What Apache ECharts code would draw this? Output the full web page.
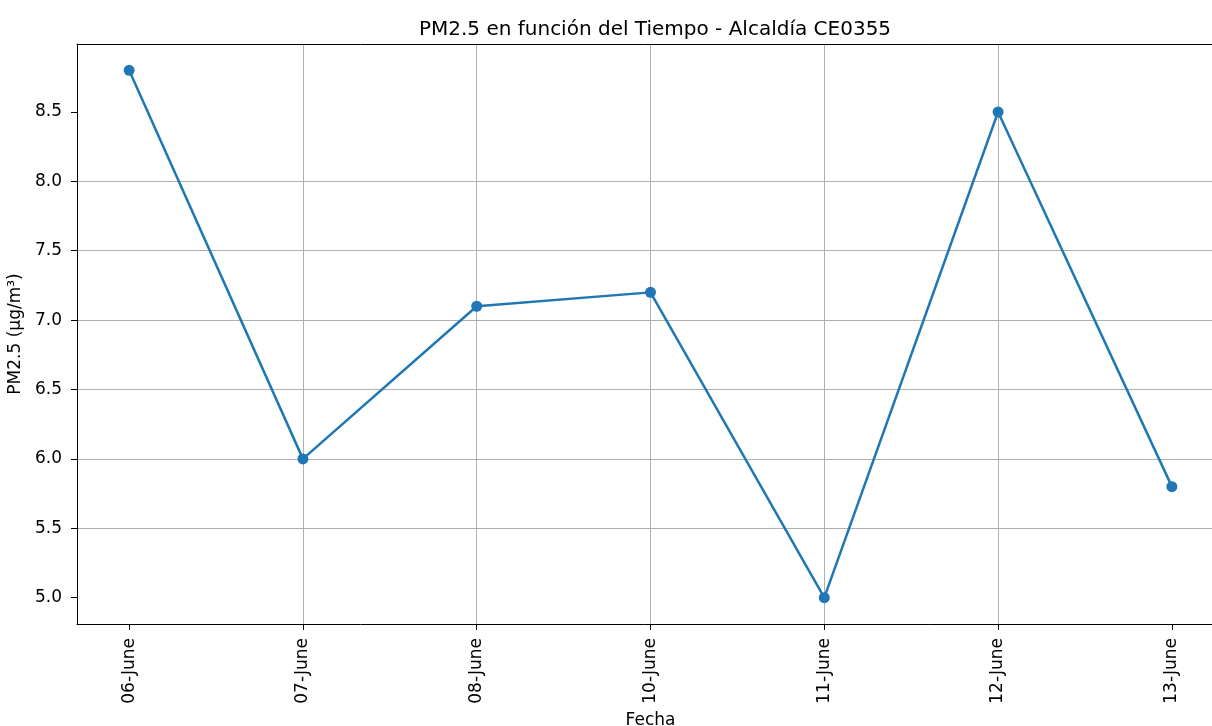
<!DOCTYPE html>
<html>
<head>
<meta charset="utf-8">
<script src="https://cdn.jsdelivr.net/npm/echarts@6/dist/echarts.min.js"></script>
<style>
  html, body { margin: 0; padding: 0; background: #fff; overflow: hidden; }
  #chart { width: 1212px; height: 726px; }
</style>
</head>
<body>
<div id="chart"></div>
<script>
// datos
const fechas = ['06-June', '07-June', '08-June', '10-June', '11-June', '12-June', '13-June']
const pm25 = [8.8, 6.0, 7.1, 7.2, 5.0, 8.5, 5.8]
const yTicks = [5.0, 5.5, 6.0, 6.5, 7.0, 7.5, 8.0, 8.5]

const font = 'DejaVu Sans'
const idx = fechas.map((_, i) => i)
const chart = echarts.init(document.getElementById('chart'))

// la figura original esta recortada por la derecha: el marco pasa del borde
chart.setOption({
  animation: false,
  textStyle: { fontFamily: font },
  title: {
    text: 'PM2.5 en función del Tiempo - Alcaldía CE0355',
    left: 650,
    textAlign: 'center',
    top: 15,
    textStyle: { fontFamily: font, fontSize: 20, fontWeight: 'normal', color: '#000' },
  },
  grid: { left: 77, right: -12, top: 44, bottom: 102, containLabel: false, outerBoundsMode: 'none' },
  xAxis: [
    {
      type: 'value',
      min: -0.3,
      max: fechas.length - 1 + 0.3,
      minInterval: 1,
      maxInterval: 1,
      name: 'Fecha',
      nameLocation: 'middle',
      nameGap: 84,
      nameTextStyle: { fontFamily: font, fontSize: 17, color: '#000' },
      axisLine: { show: true, onZero: false, lineStyle: { color: '#000', width: 1 } },
      axisTick: { show: true, length: 6, customValues: idx, lineStyle: { color: '#000' } },
      axisLabel: {
        customValues: idx,
        rotate: 90,
        margin: 14,
        fontFamily: font,
        fontSize: 17,
        color: '#000',
        formatter: (v) => fechas[Math.round(v)] || '',
      },
      splitLine: { show: true, showMinLine: false, showMaxLine: false, lineStyle: { color: '#b0b0b0', width: 1 } },
    },
    {
      type: 'value',
      position: 'top',
      min: -0.3,
      max: fechas.length - 1 + 0.3,
      axisLine: { show: true, onZero: false, lineStyle: { color: '#000', width: 1 } },
      axisTick: { show: false },
      axisLabel: { show: false },
      splitLine: { show: false },
    },
  ],
  yAxis: [
    {
      type: 'value',
      min: 4.81,
      max: 8.99,
      minInterval: 0.5,
      maxInterval: 0.5,
      name: 'PM2.5 (µg/m³)',
      nameLocation: 'middle',
      nameGap: 50,
      nameRotate: 90,
      nameTextStyle: { fontFamily: font, fontSize: 17, color: '#000' },
      axisLine: { show: true, onZero: false, lineStyle: { color: '#000', width: 1 } },
      axisTick: { show: true, length: 6, customValues: yTicks, lineStyle: { color: '#000' } },
      axisLabel: {
        customValues: yTicks,
        margin: 15,
        fontFamily: font,
        fontSize: 17,
        color: '#000',
        formatter: (v) => v.toFixed(1),
      },
      splitLine: { show: true, showMinLine: false, showMaxLine: false, lineStyle: { color: '#b0b0b0', width: 1 } },
    },
  ],
  series: [
    {
      type: 'line',
      data: pm25.map((v, i) => [i, v]),
      symbol: 'circle',
      symbolSize: 11,
      lineStyle: { color: '#1f77b4', width: 2.5 },
      itemStyle: { color: '#1f77b4' },
      z: 5,
    },
  ],
})
</script>
</body>
</html>
